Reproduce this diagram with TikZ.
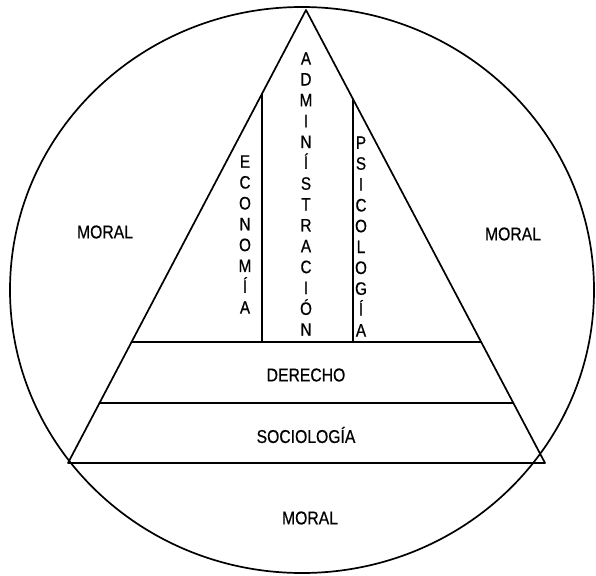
\documentclass[tikz,border=0pt]{standalone}
\usepackage{fontspec}
\setmainfont{Liberation Sans}[FakeStretch=0.85, FakeBold=0.6]
\usetikzlibrary{calc}
\tikzset{
  ln/.style={line width=1.7pt, line cap=round, line join=round},
  lbl/.style={inner sep=0pt, font=\fontsize{18.5}{20}\selectfont},
  vstack/.style={inner sep=0pt, align=center, font=\fontsize{18}{20.85}\selectfont}
}
\begin{document}
\begin{tikzpicture}[x=1pt,y=-1pt]
\useasboundingbox[fill=white] (0,0) rectangle (596,575);
% main points
\coordinate (c) at (302,290);
\coordinate (apex) at (306,10);
\coordinate (bl) at (68,463);
\coordinate (br) at (545,463);
% outer circle
\draw[ln] (c) ellipse[x radius=292pt, y radius=283pt];
% triangle
\draw[ln] (bl) -- (apex) -- (br) -- cycle;
% horizontal bands
\coordinate (d1l) at ($(apex)!0.733!(bl)$);
\coordinate (d1r) at ($(apex)!0.733!(br)$);
\coordinate (d2l) at ($(apex)!0.8675!(bl)$);
\coordinate (d2r) at ($(apex)!0.8675!(br)$);
\draw[ln] (d1l) -- (d1r);
\draw[ln] (d2l) -- (d2r);
% vertical dividers
\coordinate (v1t) at ($(apex)!0.185!(bl)$);
\coordinate (v2t) at ($(apex)!0.197!(br)$);
\draw[ln] (v1t) -- (v1t |- d1l);
\draw[ln] (v2t) -- (v2t |- d1r);
% labels
\node[lbl] (moral1) at (105,232) {MORAL};
\node[lbl] (moral2) at (513,234) {MORAL};
\node[lbl] (moral3) at (310,518) {MORAL};
\node[lbl] (der) at (306,375) {DERECHO};
\node[lbl] (soc) at (306,435) {SOCIOLOGÍA};
\node[vstack] (eco) at (245,234.5) {E\\C\\O\\N\\O\\M\\Í\\A};
\node[vstack] (adm) at (306,194) {A\\D\\M\\I\\N\\Í\\S\\T\\R\\A\\C\\I\\Ó\\N};
\node[vstack] (psi) at (361,236.5) {P\\S\\I\\C\\O\\L\\O\\G\\Í\\A};
\end{tikzpicture}
\end{document}
